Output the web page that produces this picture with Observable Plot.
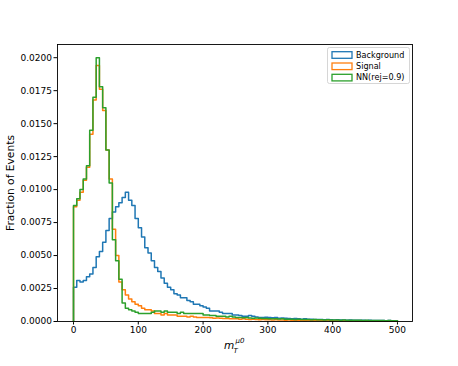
<!DOCTYPE html>
<html><head><meta charset="utf-8">
<script src="https://cdn.jsdelivr.net/npm/d3@7"></script>
<script src="https://cdn.jsdelivr.net/npm/@observablehq/plot@0.6"></script>
<style>body{margin:0;background:#fff} svg{font-family:"DejaVu Sans",sans-serif}</style>
</head><body><div id="chart"></div>
<script>
// bin edges: 100 bins of width 5 from 0 to 500
const binEdges = d3.range(0, 505, 5);
const background = [
0.0026,0.0031,0.0030,0.0031,0.0034,0.0036,0.0041,0.0049,0.0053,0.0060,
0.0069,0.0078,0.0083,0.0087,0.0090,0.0094,0.0098,0.0092,0.0088,0.0078,
0.0071,0.0064,0.0056,0.0052,0.0046,0.0041,0.0038,0.0033,0.0029,0.0026,
0.0024,0.0021,0.0020,0.0018,0.0018,0.0016,0.0015,0.0013,0.0013,0.0012,
0.0011,0.0010,0.0008,0.0008,0.0008,0.0007,0.0006,0.0006,0.0006,0.0005,
0.0005,0.00045,0.0004,0.0004,0.00045,0.0004,0.00035,0.0003,0.0003,0.00032,
0.0003,0.00028,0.0003,0.00025,0.00027,0.00024,0.00022,0.0002,0.00022,0.0002,
0.00018,0.0002,0.00017,0.00018,0.00016,0.00015,0.00016,0.00014,0.00015,0.00013,
0.00012,0.00013,0.00011,0.00012,0.0001,0.00011,0.0001,0.00009,0.0001,0.00009,
0.00008,0.00009,0.00008,0.00007,0.00008,0.00007,0.00006,0.00007,0.00006,0.00005];
const signal = [
0.0087,0.0092,0.0098,0.0107,0.0117,0.0142,0.0168,0.0194,0.0176,0.0160,
0.0130,0.0108,0.0070,0.0050,0.0030,0.0024,0.0020,0.0017,0.0015,0.0013,
0.0012,0.0010,0.0009,0.0009,0.0008,0.0006,0.0006,0.0005,0.0006,0.0005,
0.0005,0.0005,0.0004,0.0004,0.0004,0.00035,0.0004,0.00035,0.0003,0.0003,
0.0003,0.0003,0.00028,0.00025,0.00027,0.00025,0.00023,0.00022,0.0002,0.0002,
0.0002,0.00018,0.0002,0.00017,0.00016,0.00017,0.00015,0.00014,0.00015,0.00013,
0.00013,0.00012,0.00013,0.00011,0.00012,0.0001,0.00011,0.0001,0.00009,0.0001,
0.00009,0.00008,0.00009,0.00008,0.00007,0.00008,0.00007,0.00006,0.00007,0.00006,
0.00006,0.00005,0.00006,0.00005,0.00005,0.00004,0.00005,0.00004,0.00004,0.00003,
0.00004,0.00003,0.00003,0.00003,0.00002,0.00003,0.00002,0.00002,0.00002,0.00001];
const nn = [
0.0088,0.0093,0.0100,0.0108,0.0118,0.0145,0.0170,0.0200,0.0178,0.0162,
0.0130,0.0105,0.0062,0.0046,0.0032,0.0014,0.0010,0.0009,0.0008,0.0007,
0.0006,0.0006,0.0006,0.0006,0.0007,0.0008,0.0008,0.0007,0.0008,0.0007,
0.0007,0.0007,0.0006,0.0007,0.0006,0.0006,0.0006,0.0006,0.0006,0.0006,
0.0005,0.0005,0.00045,0.00045,0.0004,0.0004,0.0004,0.00035,0.0004,0.00035,
0.0003,0.0003,0.00028,0.0003,0.00026,0.00025,0.00026,0.00024,0.00022,0.00023,
0.0002,0.00021,0.0002,0.00019,0.0002,0.00018,0.00017,0.00018,0.00016,0.00017,
0.00015,0.00016,0.00015,0.00014,0.00015,0.00013,0.00014,0.00012,0.00013,0.00012,
0.00011,0.00012,0.0001,0.00011,0.0001,0.0001,0.00009,0.0001,0.00009,0.00008,
0.00009,0.00008,0.00008,0.00007,0.00008,0.00007,0.00006,0.00007,0.00006,0.00005];
const seriesNames = ["Background", "Signal", "NN(rej=0.9)"];
const seriesColors = ["#1f77b4", "#ff7f0e", "#2ca02c"];
const xTicks = [0, 100, 200, 300, 400, 500];
const yTicks = [0, 0.0025, 0.005, 0.0075, 0.01, 0.0125, 0.015, 0.0175, 0.02];

function steps(vals, name) {
  const pts = [{x: binEdges[0], y: 0, s: name}];
  vals.forEach((v, i) => pts.push({x: binEdges[i], y: v, s: name}));
  pts.push({x: binEdges[vals.length], y: 0, s: name});
  return pts;
}
const allSeries = [background, signal, nn];

const chart = Plot.plot({
  width: 458, height: 366,
  marginLeft: 57, marginRight: 46, marginTop: 44, marginBottom: 45,
  style: {fontFamily: "DejaVu Sans, sans-serif", fontSize: "9px", color: "#000", background: "#fff"},
  x: {domain: [-24.7, 523.2], ticks: xTicks, tickSize: 3.5, tickPadding: 2, label: null},
  y: {domain: [0, 0.021], ticks: yTicks, tickFormat: d3.format(".4f"), tickSize: 3.5, tickPadding: 2,
      label: "Fraction of Events", labelAnchor: "center", labelArrow: "none", labelOffset: 51},
  marks: [
    ...allSeries.map((vals, k) => Plot.line(steps(vals, seriesNames[k]), {
      x: "x", y: "y", curve: "step-after", stroke: seriesColors[k], strokeWidth: 1.5
    })),
    Plot.frame({stroke: "#000", strokeWidth: 0.9})
  ]
});

const svg = d3.select(chart);
svg.selectAll('[aria-label="y-axis label"] text').attr("font-size", "10.7px");

// x-axis label m_T^{μ0}
const xl = svg.append("text").attr("fill", "#000").attr("text-anchor", "start")
  .attr("font-family", "DejaVu Sans, sans-serif");
xl.append("tspan").attr("x", 224).attr("y", 349).attr("font-size", "10.5px").attr("font-style", "italic").text("m");
xl.append("tspan").attr("x", 233.5).attr("y", 352.5).attr("font-size", "7px").attr("font-style", "italic").text("T");
xl.append("tspan").attr("x", 235.5).attr("y", 342.5).attr("font-size", "7px").attr("font-style", "italic").text("μ0");

// legend
const lg = svg.append("g").attr("text-anchor", "start");
lg.append("rect").attr("x", 327.5).attr("y", 47.5).attr("width", 82).attr("height", 36).attr("rx", 2)
  .attr("fill", "#fff").attr("fill-opacity", 0.8).attr("stroke", "#ccc").attr("stroke-width", 0.8);
const legendY = [55, 66.3, 77.6];
seriesNames.forEach((name, k) => {
  lg.append("rect").attr("x", 332).attr("y", legendY[k] - 3.3).attr("width", 20).attr("height", 6.6)
    .attr("fill", "none").attr("stroke", seriesColors[k]).attr("stroke-width", 1.3);
  lg.append("text").attr("x", 356).attr("y", legendY[k]).attr("dy", "0.35em")
    .attr("font-size", "8.1px").attr("fill", "#000").text(name);
});

document.getElementById("chart").appendChild(chart);
</script>
</body></html>
